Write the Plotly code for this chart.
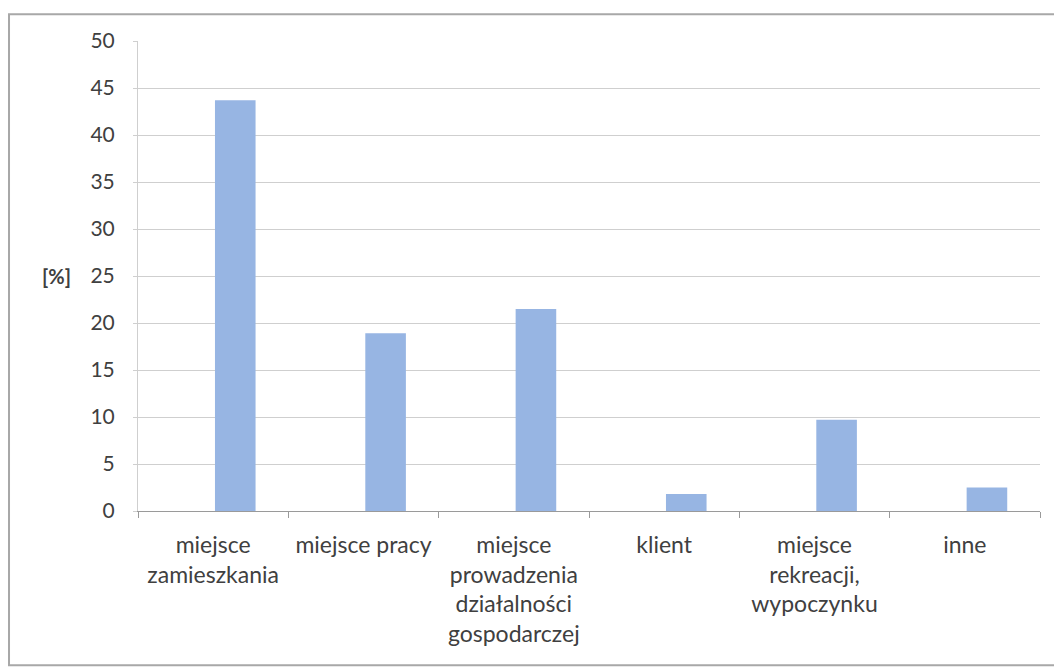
import plotly.graph_objects as go

# categories and values
categories = [
    "miejsce<br>zamieszkania",
    "miejsce pracy",
    "miejsce<br>prowadzenia<br>działalności<br>gospodarczej",
    "klient",
    "miejsce<br>rekreacji,<br>wypoczynku",
    "inne",
]
values = [43.7, 18.9, 21.5, 1.8, 9.7, 2.5]
y_ticks = [0, 5, 10, 15, 20, 25, 30, 35, 40, 45, 50]

bar_color = "#97B5E3"
text_color = "#404040"
font_family = "Lato, 'Noto Sans', sans-serif"

fig = go.Figure()
fig.add_trace(
    go.Bar(
        x=categories,
        y=values,
        marker=dict(color=bar_color, line=dict(width=0)),
        width=0.27,
        offset=0.012,
        hoverinfo="x+y",
    )
)

# page body adds an 8px margin, so the figure is 8px smaller than the window
fig.update_layout(
    width=1054,
    height=660,
    margin=dict(l=130, r=22, t=33, b=157),
    paper_bgcolor="white",
    plot_bgcolor="white",
    showlegend=False,
    font=dict(family=font_family, size=21, color=text_color),
)

fig.update_xaxes(
    type="category",
    showgrid=False,
    showline=True,
    linecolor="#9a9a9a",
    linewidth=1,
    ticks="outside",
    tickson="boundaries",
    ticklen=6,
    tickcolor="#9a9a9a",
    tickangle=0,
    ticklabelstandoff=13,
    tickfont=dict(size=23, color=text_color),
)

fig.update_yaxes(
    range=[0, 50],
    tickvals=y_ticks,
    showgrid=True,
    gridcolor="#cfcfcf",
    gridwidth=1,
    showline=True,
    linecolor="#cfcfcf",
    ticks="outside",
    ticklen=4,
    tickcolor="#cfcfcf",
    ticklabelstandoff=14,
    zeroline=False,
    tickfont=dict(size=21, color=text_color),
)

# axis caption
fig.add_annotation(
    text="<b>[%]</b>",
    xref="paper",
    yref="paper",
    x=-0.09,
    y=0.5,
    xanchor="center",
    yanchor="middle",
    showarrow=False,
    font=dict(size=20, color=text_color),
)

# outer chart frame
fig.add_shape(
    type="rect",
    xref="paper",
    yref="paper",
    x0=-0.143,
    x1=1.021,
    y0=-0.328,
    y1=1.057,
    line=dict(color="#a8a8a8", width=2),
    layer="below",
)

fig.write_html("out.html")
